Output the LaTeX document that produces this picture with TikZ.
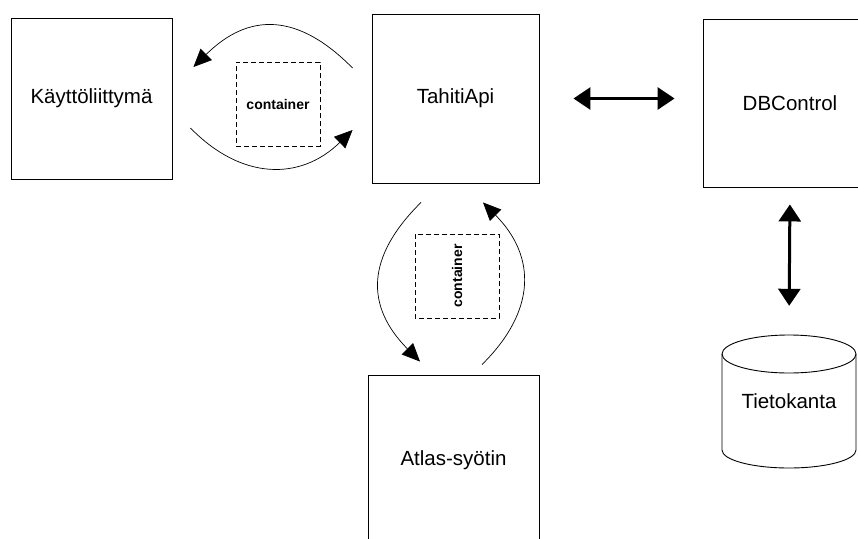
\documentclass[tikz,border=0pt]{standalone}
\usepackage{fontspec}
\setmainfont{Liberation Sans}
\usetikzlibrary{arrows.meta}

\begin{document}
\begin{tikzpicture}[x=1pt, y=-1pt,
    box/.style={draw, line width=0.9pt, font=\fontsize{20.5}{24}\selectfont},
    cbox/.style={draw, dash pattern=on 5pt off 3pt, line width=0.9pt, minimum width=84pt, minimum height=84pt, font=\bfseries\fontsize{14}{16}\selectfont},
    flow/.style={line width=0.7pt, -{Triangle[length=18pt, width=16pt]}},
    bigarrow/.style={line width=3pt, {Triangle[length=17pt, width=22pt]}-{Triangle[length=17pt, width=22pt]}}]
    \useasboundingbox (0,0) rectangle (858,538);

    % Draw the components
    \node[box, minimum width=161pt, minimum height=161pt] (kali) at (91.5,98.5) {Käyttöliittymä};
    \node[box, minimum width=167pt, minimum height=169pt] (tahiti) at (455.5,98.5) {TahitiApi};
    \node[box, minimum width=174pt, minimum height=168pt] (dbc) at (790,103) {DBControl};
    \node[box, minimum width=171pt, minimum height=170pt] (atlas) at (453.5,460) {Atlas-syötin};

    % Database drawn as a cylinder around its label
    \node[minimum width=134pt, minimum height=133pt, font=\fontsize{20.5}{24}\selectfont] (db) at (789,401.5) {Tietokanta};
    \draw[line width=0.9pt] (789,354) ellipse [x radius=67pt, y radius=19pt];
    \draw[line width=0.9pt] (722,354) -- (722,450) arc [start angle=180, end angle=360, x radius=67pt, y radius=18pt] -- (856,354);

    % Containers passed between the components
    \node[cbox] (cont1) at (278,104) {container};
    \node[cbox, rotate=90] (cont2) at (457,276) {container};

    % Calls between user interface and API
    \draw[flow] ([shift={(-19,-30.5)}]tahiti.west) to[bend right=45, looseness=1.25] ([shift={(21,-31.5)}]kali.east);
    \draw[flow] ([shift={(18,29.5)}]kali.east) to[bend right=45, looseness=1.15] ([shift={(-19,31.5)}]tahiti.west);

    % Calls between API and feeder
    \draw[flow] ([shift={(-34.5,19)}]tahiti.south) to[bend right=45, looseness=1.25] ([shift={(-33.5,-13)}]atlas.north);
    \draw[flow] ([shift={(28.5,-10)}]atlas.north) to[bend right=45, looseness=1.2] ([shift={(27.5,19)}]tahiti.south);

    % Database connections
    \draw[bigarrow, shorten <=34pt, shorten >=28pt] (tahiti.east) -- (tahiti.east -| dbc.west);
    \draw[bigarrow, shorten <=17pt, shorten >=29pt] (dbc.south) -- (db.north);
\end{tikzpicture}
\end{document}
